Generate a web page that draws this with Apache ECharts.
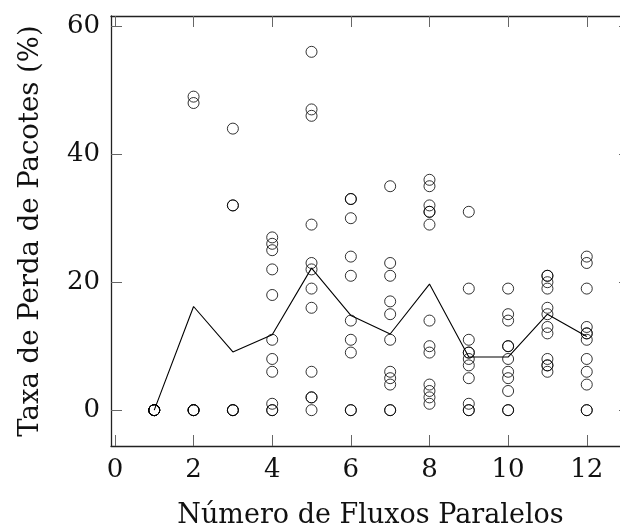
<!DOCTYPE html>
<html>
<head>
<meta charset="utf-8">
<script src="https://cdn.jsdelivr.net/npm/echarts@6/dist/echarts.min.js"></script>
<style>
  html, body { margin: 0; padding: 0; background: #fff; }
  #chart { width: 620px; height: 526px; }
</style>
</head>
<body>
<div id="chart"></div>
<script>
// numero de fluxos paralelos (eixo x)
const flows = [1, 2, 3, 4, 5, 6, 7, 8, 9, 10, 11, 12];

// taxa de perda (%) de cada execucao, por numero de fluxos
const lossByFlows = [
    [0, 0, 0, 0, 0, 0],
    [49, 48, 0, 0, 0, 0],
    [44, 32, 32, 0, 0, 0],
    [27, 26, 25, 22, 18, 11, 8, 6, 1, 0, 0],
    [56, 47, 46, 29, 23, 22, 19, 16, 6, 2, 2, 0],
    [33, 33, 30, 24, 21, 14, 11, 9, 0, 0],
    [35, 23, 21, 17, 15, 11, 6, 5, 4, 0, 0],
    [36, 35, 32, 31, 31, 29, 14, 10, 9, 4, 3, 2, 1],
    [31, 19, 11, 9, 9, 8, 7, 5, 1, 0, 0],
    [19, 15, 14, 10, 10, 8, 6, 5, 3, 0, 0],
    [21, 21, 20, 19, 16, 15, 13, 12, 8, 7, 7, 6],
    [24, 23, 19, 13, 12, 12, 11, 8, 6, 4, 0, 0]
];

// media por numero de fluxos (linha)
const meanLoss = [0, 16.2, 9.1, 11.8, 22.2, 14.8, 11.9, 19.7, 8.3, 8.3, 15.0, 11.5];

const xTicks = [0, 2, 4, 6, 8, 10, 12];
const yTicks = [0, 20, 40, 60];

const fontFamily = '"DejaVu Serif", serif';

let points = [];
flows.forEach((f, i) => {
    lossByFlows[i].forEach(v => points.push([f, v]));
});

let myChart = echarts.init(document.getElementById('chart'), null, { renderer: 'canvas' });

const frameLine = { show: true, onZero: false, lineStyle: { color: '#222', width: 1.3 } };
const innerTick = { show: true, inside: true, length: 11, lineStyle: { color: '#666', width: 1 } };

let option = {
    animation: false,
    backgroundColor: '#fff',
    // a borda direita fica fora da imagem (como no original, cortado)
    grid: { left: 111, top: 16, width: 519, height: 430, containLabel: false, outerBoundsMode: 'none' },
    xAxis: [
        {
            type: 'value',
            min: -0.1,
            max: 13.1,
            position: 'bottom',
            axisLine: frameLine,
            axisTick: Object.assign({}, innerTick, { customValues: xTicks }),
            axisLabel: {
                customValues: xTicks,
                margin: 11,
                color: '#111',
                fontFamily: fontFamily,
                fontSize: 26
            },
            splitLine: { show: false },
            name: 'Número de Fluxos Paralelos',
            nameLocation: 'middle',
            nameGap: 56,
            nameTextStyle: { color: '#111', fontFamily: fontFamily, fontSize: 27 }
        },
        {
            type: 'value',
            min: -0.1,
            max: 13.1,
            position: 'top',
            axisLine: frameLine,
            axisTick: Object.assign({}, innerTick, { customValues: xTicks }),
            axisLabel: { show: false },
            splitLine: { show: false }
        }
    ],
    yAxis: [
        {
            type: 'value',
            min: -5.6,
            max: 61.6,
            position: 'left',
            axisLine: frameLine,
            axisTick: Object.assign({}, innerTick, { customValues: yTicks }),
            axisLabel: {
                customValues: yTicks,
                margin: 11,
                color: '#111',
                fontFamily: fontFamily,
                fontSize: 26
            },
            splitLine: { show: false },
            name: 'Taxa de Perda de Pacotes (%)',
            nameLocation: 'middle',
            nameGap: 66,
            nameTextStyle: { color: '#111', fontFamily: fontFamily, fontSize: 27.5 }
        },
        {
            type: 'value',
            min: -5.6,
            max: 61.6,
            position: 'right',
            axisLine: frameLine,
            axisTick: Object.assign({}, innerTick, { customValues: yTicks }),
            axisLabel: { show: false },
            splitLine: { show: false }
        }
    ],
    series: [
        {
            name: 'execucoes',
            type: 'scatter',
            data: points,
            symbol: 'circle',
            symbolSize: 11,
            itemStyle: {
                color: 'rgba(0,0,0,0)',
                borderColor: '#000',
                borderWidth: 1
            },
            z: 3
        },
        {
            name: 'media',
            type: 'line',
            data: flows.map((f, i) => [f, meanLoss[i]]),
            showSymbol: false,
            symbol: 'none',
            lineStyle: { color: '#000', width: 1.1 },
            z: 2
        }
    ]
};

myChart.setOption(option);
</script>
</body>
</html>
